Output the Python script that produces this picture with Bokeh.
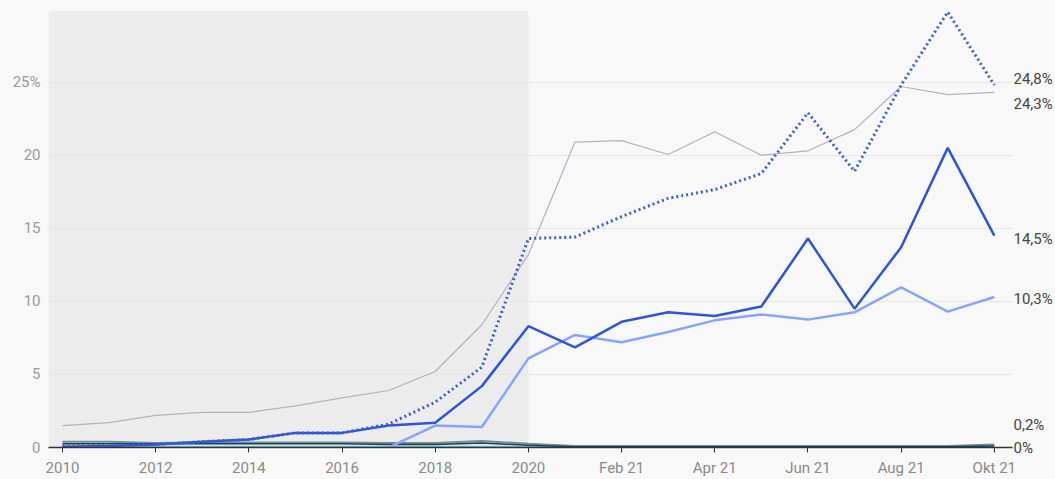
from bokeh.plotting import figure
from bokeh.models import BoxAnnotation, FixedTicker, LinearAxis
from bokeh.embed import file_html
from bokeh.resources import INLINE
import numpy as np

# ---- data ----
categories = ["2010", "2011", "2012", "2013", "2014", "2015", "2016", "2017", "2018", "2019", "2020",
              "Jan 21", "Feb 21", "Mär 21", "Apr 21", "Mai 21", "Jun 21", "Jul 21", "Aug 21", "Sep 21", "Okt 21"]
tick_labels = {0: "2010", 2: "2012", 4: "2014", 6: "2016", 8: "2018", 10: "2020",
               12: "Feb 21", 14: "Apr 21", 16: "Jun 21", 18: "Aug 21", 20: "Okt 21"}
y_ticks = [0, 5, 10, 15, 20, 25]

gray_series = [1.5, 1.7, 2.2, 2.4, 2.4, 2.85, 3.4, 3.9, 5.2, 8.4, 13.2,
               20.9, 21.0, 20.05, 21.6, 20.0, 20.3, 21.75, 24.7, 24.15, 24.3]
dotted_series = [0.1, 0.15, 0.2, 0.4, 0.55, 1.0, 1.0, 1.6, 3.1, 5.5, 14.3,
                 14.4, 15.8, 17.05, 17.65, 18.75, 22.9, 18.9, 24.8, 29.8, 24.8]
blue_series = [0.05, 0.1, 0.2, 0.4, 0.55, 1.0, 1.0, 1.5, 1.7, 4.2, 8.3,
               6.85, 8.6, 9.25, 9.0, 9.65, 14.3, 9.5, 13.7, 20.5, 14.5]
light_series = [None, None, None, None, None, None, None, 0.0, 1.5, 1.4, 6.1,
                7.7, 7.2, 7.9, 8.7, 9.1, 8.75, 9.25, 10.95, 9.3, 10.3]
teal_series = [0.4, 0.4, 0.3, 0.35, 0.35, 0.35, 0.35, 0.3, 0.3, 0.45, 0.25,
               0.1, 0.1, 0.1, 0.1, 0.1, 0.1, 0.1, 0.1, 0.1, 0.2]
navy_series = [0.25, 0.25, 0.25, 0.25, 0.25, 0.25, 0.25, 0.2, 0.2, 0.3, 0.15,
               0.05, 0.05, 0.05, 0.05, 0.05, 0.05, 0.05, 0.05, 0.05, 0.1]
cyan_series = [0.05, 0.05, 0.05, 0.05, 0.05, 0.05, 0.05, 0.05, 0.05, 0.05, 0.05,
               0.05, 0.05, 0.05, 0.05, 0.05, 0.05, 0.05, 0.05, 0.05, 0.0]
end_labels = ["24,3%", "24,8%", "14,5%", "10,3%", "0,2%", "0%"]

x = list(range(len(categories)))

def arr(vals):
    return np.array([np.nan if v is None else v for v in vals], dtype=float)

FONT = "Roboto"
BG = "#f8f8f8"
Y_END = 29.9
FRAME_H = 438

p = figure(width=1055, height=479, output_backend="svg", toolbar_location=None,
           x_range=(-0.3, 20.39), y_range=(0, Y_END),
           min_border_left=48, min_border_right=42, min_border_top=10, min_border_bottom=31)
p.background_fill_color = BG
p.border_fill_color = BG
p.outline_line_color = None

# shaded historical area
p.add_layout(BoxAnnotation(right=10, fill_color="#ececec", fill_alpha=1.0,
                           line_color=None, level="image"))

# grid
p.xgrid.grid_line_color = None
p.ygrid.ticker = FixedTicker(ticks=y_ticks)
p.ygrid.grid_line_color = "#e6e6e6"
p.ygrid.grid_line_width = 1

# axes
p.yaxis.ticker = FixedTicker(ticks=y_ticks)
p.yaxis.major_label_overrides = {25: "25%"}
p.yaxis.axis_line_color = None
p.yaxis.major_tick_line_color = None
p.yaxis.major_tick_out = 0
p.yaxis.minor_tick_line_color = None
p.yaxis.minor_tick_out = 0
p.yaxis.major_label_text_color = "#9a9a9a"
p.yaxis.major_label_text_font = FONT
p.yaxis.major_label_text_font_size = "15px"
p.yaxis.major_label_standoff = 8

p.xaxis.ticker = FixedTicker(ticks=list(tick_labels.keys()))
p.xaxis.major_label_overrides = tick_labels
p.xaxis.axis_line_color = "#333333"
p.xaxis.axis_line_width = 1.5
p.xaxis.major_tick_line_color = "#333333"
p.xaxis.major_tick_out = 5
p.xaxis.major_tick_in = 0
p.xaxis.minor_tick_line_color = None
p.xaxis.major_label_text_color = "#8a8a8a"
p.xaxis.major_label_text_font = FONT
p.xaxis.major_label_text_font_size = "15px"
p.xaxis.major_label_standoff = 6

# lines
p.line(x, arr(cyan_series), line_color="#6cc6e6", line_width=2)
p.line(x, arr(teal_series), line_color="#6f8f99", line_width=2)
p.line(x, arr(navy_series), line_color="#1f3f58", line_width=1.5)
p.line(x, arr(gray_series), line_color="#b2b2c0", line_width=1.2)
p.line(x, arr(light_series), line_color="#8aa3ff", line_width=2.5)
p.line(x, arr(blue_series), line_color="#2f55d6", line_width=2.5)
p.line(x, arr(dotted_series), line_color="#3a5fcc", line_width=3,
       line_dash="2 3")

# end labels as a right-hand axis (last values, nudged apart by a few pixels)
last = len(categories) - 1
px = Y_END / FRAME_H
label_specs = [
    (gray_series[last], end_labels[0], -12),
    (dotted_series[last], end_labels[1], 6),
    (blue_series[last], end_labels[2], -3),
    (light_series[last], end_labels[3], -2),
    (teal_series[last], end_labels[4], 20),
    (cyan_series[last], end_labels[5], 0),
]
pos = [max(0.0, round(v + off * px, 4)) for v, _, off in label_specs]
right_axis = LinearAxis(ticker=FixedTicker(ticks=pos),
                        major_label_overrides={k: t for k, (_, t, _) in zip(pos, label_specs)})
right_axis.axis_line_color = None
right_axis.major_tick_line_color = None
right_axis.major_tick_out = 0
right_axis.major_tick_in = 0
right_axis.minor_tick_line_color = None
right_axis.minor_tick_out = 0
right_axis.major_label_standoff = 1
right_axis.major_label_text_font = FONT
right_axis.major_label_text_font_size = "15px"
right_axis.major_label_text_color = "#444444"
p.add_layout(right_axis, "right")

html = file_html(p, INLINE)
html = html.replace("<body>", '<body style="background-color:#f8f8f8;">')
open("out.html", "w").write(html)
